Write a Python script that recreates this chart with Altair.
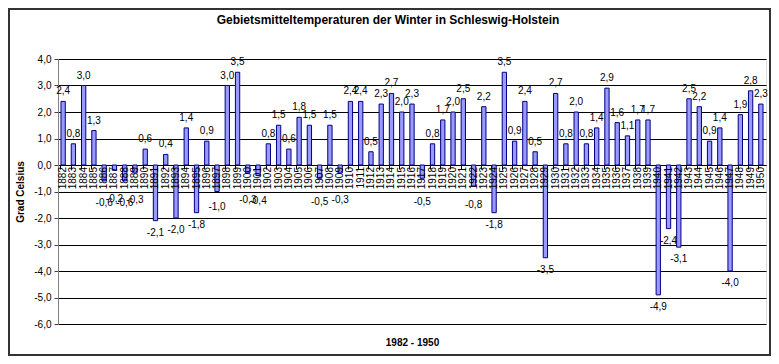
import altair as alt
import pandas as pd

years = [str(y) for y in range(1882, 1951)]
values = [2.4, 0.8, 3.0, 1.3, -0.6, -0.2, -0.6, -0.3, 0.6, -2.1,
          0.4, -2.0, 1.4, -1.8, 0.9, -1.0, 3.0, 3.5, -0.3, -0.4,
          0.8, 1.5, 0.6, 1.8, 1.5, -0.5, 1.5, -0.3, 2.4, 2.4,
          0.5, 2.3, 2.7, 2.0, 2.3, -0.5, 0.8, 1.7, 2.0, 2.5,
          -0.8, 2.2, -1.8, 3.5, 0.9, 2.4, 0.5, -3.5, 2.7, 0.8,
          2.0, 0.8, 1.4, 2.9, 1.6, 1.1, 1.7, 1.7, -4.9, -2.4,
          -3.1, 2.5, 2.2, 0.9, 1.4, -4.0, 1.9, 2.8, 2.3]
labels = [f"{v:.1f}".replace(".", ",") for v in values]

title_text = "Gebietsmitteltemperaturen der Winter in Schleswig-Holstein"
y_title = "Grad Celsius"
x_title = "1982 - 1950"
y_min, y_max = -6, 4

W, H = 708, 265
FONT = "Liberation Sans"
zero_frac = (0 - y_min) / (y_max - y_min)

df = pd.DataFrame({"year": years, "v": values, "lab": labels})

x_scale = alt.Scale(paddingInner=0.58, paddingOuter=0.29)
y_scale = alt.Scale(domain=[y_min, y_max], nice=False)

x_axis = alt.Axis(orient="bottom", offset=-H * zero_frac,
                  labels=False, bandPosition=0, tickSize=4, tickColor="#000000",
                  domainColor="#000000", title=x_title,
                  titleFont=FONT, titleFontSize=10, titleFontWeight="bold",
                  titleY=H * zero_frac + 18, titleBaseline="middle")
y_axis = alt.Axis(values=list(range(y_min, y_max + 1)), tickCount=11,
                  labelExpr="replace(replace(format(datum.value, '.1f'), '.', ','), '\u2212', '-')",
                  labelFont=FONT, labelFontSize=10, labelColor="#000000",
                  labelOverlap=False,
                  tickSize=4, tickColor="#404040", labelPadding=3,
                  domainColor="#808080", grid=True, gridColor="#000000",
                  gridWidth=1, title=y_title, titleFont=FONT,
                  titleFontSize=10, titleFontWeight="bold",
                  titleX=-38, titleY=H / 2, titleAngle=270,
                  titleAlign="center", titleBaseline="middle")

base = alt.Chart(df)

bars = base.mark_bar(fill="#9999FF", stroke="#000080", strokeWidth=1).encode(
    x=alt.X("year:O", scale=x_scale, axis=x_axis),
    y=alt.Y("v:Q", scale=y_scale, axis=y_axis),
)

year_text = base.mark_text(angle=270, align="right", baseline="middle", dx=-2,
                           font=FONT, fontSize=10, color="#000000").encode(
    x=alt.X("year:O", axis=x_axis), y=alt.datum(0, axis=y_axis), text="year:N")

pos_text = base.transform_filter("datum.v >= 0").mark_text(
    baseline="middle", dy=-10, font=FONT, fontSize=10, color="#000000").encode(
    x=alt.X("year:O", axis=x_axis), y=alt.Y("v:Q", axis=y_axis), text="lab:N")

neg_text = base.transform_filter("datum.v < 0").transform_calculate(
    ly="min(datum.v, -0.75 + 0.4 * datum.v)").mark_text(
    baseline="middle", dy=12, font=FONT, fontSize=10, color="#000000").encode(
    x=alt.X("year:O", axis=x_axis), y=alt.Y("ly:Q", axis=y_axis), text="lab:N")

frame = alt.Chart(pd.DataFrame({"f": [0]})).mark_rect(
    fillOpacity=0, stroke="#333333", strokeWidth=2).encode(
    x=alt.value(-49), x2=alt.value(W + 4), y=alt.value(-50), y2=alt.value(H + 31))

chart = alt.layer(bars, year_text, pos_text, neg_text, frame).properties(
    width=W, height=H,
    padding={"left": 50, "top": 51, "right": 5, "bottom": 32},
    autosize=alt.AutoSizeParams(type="none"),
    title=alt.TitleParams(title_text, font=FONT, fontSize=12, fontWeight="bold",
                          anchor="middle", frame="group", dx=-24, offset=-24,
                          baseline="middle", color="#000000"),
).configure_view(fill="#FFFFC6", stroke="#A0A0A0", strokeWidth=2
).configure(background="#FFFFFF")

chart.save("out.html", embed_options={"renderer": "svg", "actions": False})
